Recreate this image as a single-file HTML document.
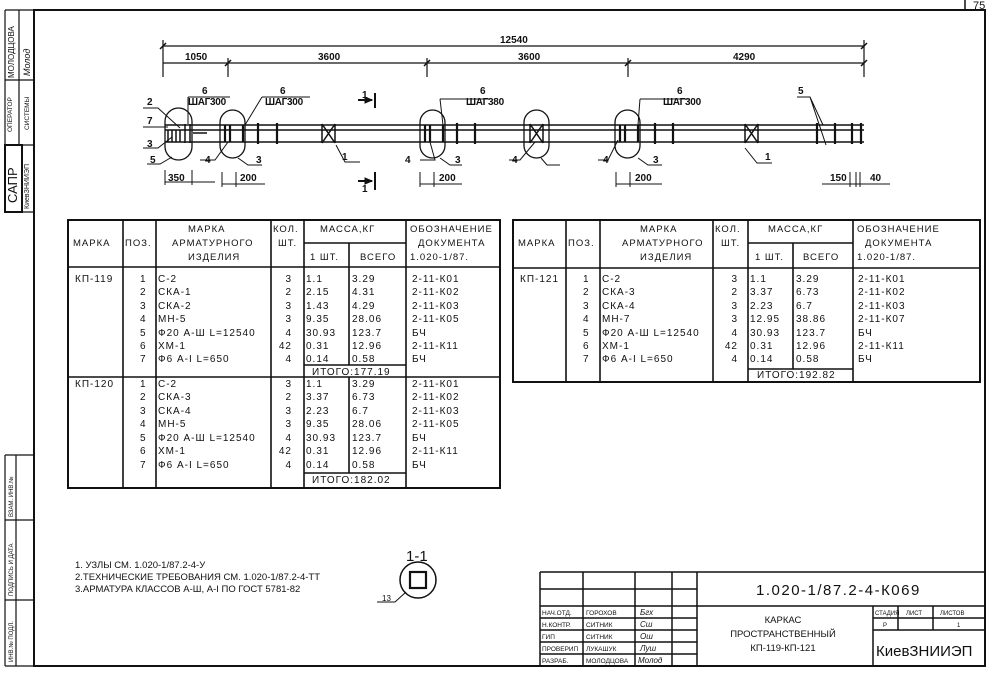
<!DOCTYPE html>
<html><head><meta charset="utf-8"><style>
html,body{margin:0;padding:0;background:#fff}
svg{display:block}
text{font-family:"Liberation Sans","DejaVu Sans",sans-serif;fill:#111}
.t{font-size:10px;letter-spacing:1px}
.h{font-size:9.5px;letter-spacing:1px}
.s{font-size:10px;font-weight:bold}
</style></head><body>
<svg width="993" height="674" viewBox="0 0 993 674" xmlns="http://www.w3.org/2000/svg">
<g stroke="#111" fill="none">
<rect x="34" y="10" width="951" height="656" stroke-width="2"/>
<path d="M965 10V0" stroke-width="1.5"/>
<path d="M5 10V212M5 455V666M5 10H34M5 80H34M5 145H34M5 212H34M19 10V80M19 80V145M5 455H34M5 520H34M5 600H34M5 666H34M16 455V666" stroke-width="1.2"/>
<rect x="5" y="145" width="17" height="67" stroke-width="2"/>
<path d="M163 46H864M163 63H864M163 40V77M228 58V77M427 58V77M628 58V77M864 40V77" stroke-width="1.2"/>
<path d="M160 49l6-6M225 66l6-6M424 66l6-6M625 66l6-6M861 49l6-6M861 66l6-6" stroke-width="1.5"/>
<path d="M165 125H864M165 142H864M165 130H864" stroke-width="1.6"/>
<path d="M168 130V142M172 130V142M176 130V142M180 130V142M185 124V143M190 124V143M193 133H207" stroke-width="1.5"/>
<path d="M225 125V142M230 125V142M243 125V142M258 123V144M277 123V144M425 125V142M430 125V142M443 125V142M457 123V144M475 123V144M620 125V142M625 125V142M638 125V142M655 123V144M673 123V144M817 123V144M835 123V144M852 123V144M861 123V144" stroke-width="2.2"/>
<path d="M322 124V143M335 124V143M322 124L335 143M335 124L322 143M530 124V143M543 124V143M530 124L543 143M543 124L530 143M745 124V143M758 124V143M745 124L758 143M758 124L745 143" stroke-width="1.5"/>
<rect x="165" y="108" width="27" height="52" rx="13.5" stroke-width="1.3"/>
<rect x="220" y="110" width="25" height="48" rx="12.5" stroke-width="1.3"/>
<rect x="420" y="110" width="25" height="48" rx="12.5" stroke-width="1.3"/>
<rect x="524" y="110" width="25" height="48" rx="12.5" stroke-width="1.3"/>
<rect x="615" y="110" width="25" height="48" rx="12.5" stroke-width="1.3"/>
<path d="M143 108H158L180 128M143 127H168M143 148H158L172 137M147 164H160L172 157M188 97H230M188 97V124M262 97H310M262 97L245 125M200 160H215L228 142M238 158L248 165H262M336 145L345 162H360M420 160H435L430 142M440 158L450 165H462M440 99H490M440 99L443 125M509 160H520L535 142M541 158L547 165H560M640 99H690M640 99L638 125M598 160H608L618 140M638 158L648 165H662M745 148L757 163H772M797 97H810L823 125M810 97L826 145" stroke-width="1"/>
<path d="M375 93V108M375 172V190M358 100H372M358 181H372" stroke-width="2"/>
<path d="M372 100l-7-3v6zM372 181l-7-3v6z" fill="#111"/>
<path d="M165 170V185M192 170V185M165 182H215M222 172V187M236 172V187M222 184H265M420 172V187M434 172V187M420 184H462M616 172V187M630 172V187M616 184H662M850 172V187M856 172V187M860 172V187M822 184H890" stroke-width="1"/>
<rect x="68" y="220" width="432" height="268" stroke-width="2"/>
<path d="M68 267H500M68 377H500M123 220V488M156 220V488M271 220V488M304 220V488M406 220V488M304 243H406M349 243V365M349 377V473M304 365H406M304 473H406" stroke-width="1.6"/>
<rect x="513" y="220" width="467" height="162" stroke-width="2"/>
<path d="M513 268H980M566 220V382M600 220V382M713 220V382M748 220V382M853 220V382M748 243H853M793 243V369M748 369H853" stroke-width="1.6"/>
<circle cx="418" cy="580" r="18" stroke-width="1.5"/>
<rect x="410" y="572" width="16" height="16" stroke-width="2.2"/>
<path d="M377 602H395L406 592" stroke-width="1"/>
<path d="M540 572H985M540 589H697M540 606H985M540 618H697M540 630H697M540 642H697M540 654H697M540 572V666M583 572V666M635 572V666M672 572V666M697 572V666M873 606V666M898 606V630M933 606V630M873 618H985M873 630H985" stroke-width="1.5"/>
</g>
<g font-size="7">
<text transform="translate(14,78) rotate(-90)" font-size="8">МОЛОДЦОВА</text>
<text transform="translate(30,76) rotate(-90)" font-size="9" font-style="italic">Молод</text>
<text transform="translate(12,132) rotate(-90)" font-size="6.5">ОПЕРАТОР</text>
<text transform="translate(29,130) rotate(-90)" font-size="6.5">СИСТЕМЫ</text>
<text transform="translate(17,203) rotate(-90)" font-size="13">САПР</text>
<text transform="translate(29,209) rotate(-90)" font-size="7">КиевЗНИИЭП</text>
<text transform="translate(13,517) rotate(-90)" font-size="6">ВЗАМ. ИНВ.№</text>
<text transform="translate(13,596) rotate(-90)" font-size="6">ПОДПИСЬ И ДАТА</text>
<text transform="translate(13,662) rotate(-90)" font-size="6">ИНВ.№ ПОДЛ.</text>
</g>
<text x="973" y="9" font-size="11">75</text>
<g class="s" font-size="10">
<text x="500" y="43">12540</text>
<text x="185" y="60">1050</text>
<text x="318" y="60">3600</text>
<text x="518" y="60">3600</text>
<text x="733" y="60">4290</text>
<text x="202" y="94">6</text><text x="188" y="105" letter-spacing="-0.3">ШАГ300</text>
<text x="280" y="94">6</text><text x="265" y="105" letter-spacing="-0.3">ШАГ300</text>
<text x="480" y="94">6</text><text x="466" y="105" letter-spacing="-0.3">ШАГ380</text>
<text x="677" y="94">6</text><text x="663" y="105" letter-spacing="-0.3">ШАГ300</text>
<text x="798" y="94">5</text>
<text x="147" y="105">2</text><text x="147" y="124">7</text><text x="147" y="147">3</text><text x="150" y="163">5</text>
<text x="205" y="163">4</text><text x="256" y="163">3</text><text x="342" y="160">1</text>
<text x="405" y="163">4</text><text x="455" y="163">3</text><text x="512" y="163">4</text>
<text x="603" y="163">4</text><text x="653" y="163">3</text><text x="765" y="160">1</text>
<text x="362" y="98">1</text><text x="362" y="192">1</text>
<text x="168" y="181">350</text><text x="240" y="181">200</text><text x="439" y="181">200</text><text x="635" y="181">200</text>
<text x="830" y="181">150</text><text x="870" y="181">40</text>
</g>
<g class="h">
<text x="73" y="246">МАРКА</text><text x="125" y="246">ПОЗ.</text>
<text x="188" y="232">МАРКА</text><text x="172" y="246">АРМАТУРНОГО</text><text x="188" y="260">ИЗДЕЛИЯ</text>
<text x="273" y="232">КОЛ.</text><text x="278" y="246">ШТ.</text>
<text x="320" y="232">МАССА,КГ</text><text x="310" y="260">1 ШТ.</text><text x="360" y="260">ВСЕГО</text>
<text x="410" y="232">ОБОЗНАЧЕНИЕ</text><text x="418" y="246">ДОКУМЕНТА</text><text x="410" y="260">1.020-1/87.</text>
</g>
<g class="t">
<text x="75" y="282">КП-119</text>
<text x="75" y="387">КП-120</text>
<text x="312" y="375">ИТОГО:177.19</text>
<text x="312" y="483">ИТОГО:182.02</text>
</g>
<g class="t">
<text x="140" y="282">1</text><text x="140" y="295">2</text><text x="140" y="309">3</text><text x="140" y="322">4</text><text x="140" y="336">5</text><text x="140" y="349">6</text><text x="140" y="362">7</text>
<text x="158" y="282">С-2</text><text x="158" y="295">СКА-1</text><text x="158" y="309">СКА-2</text><text x="158" y="322">МН-5</text><text x="158" y="336">Ф20 А-Ш L=12540</text><text x="158" y="349">ХМ-1</text><text x="158" y="362">Ф6 А-I L=650</text>
<g text-anchor="end"><text x="292" y="282">3</text><text x="292" y="295">2</text><text x="292" y="309">3</text><text x="292" y="322">3</text><text x="292" y="336">4</text><text x="292" y="349">42</text><text x="292" y="362">4</text></g>
<text x="306" y="282">1.1</text><text x="306" y="295">2.15</text><text x="306" y="309">1.43</text><text x="306" y="322">9.35</text><text x="306" y="336">30.93</text><text x="306" y="349">0.31</text><text x="306" y="362">0.14</text>
<text x="352" y="282">3.29</text><text x="352" y="295">4.31</text><text x="352" y="309">4.29</text><text x="352" y="322">28.06</text><text x="352" y="336">123.7</text><text x="352" y="349">12.96</text><text x="352" y="362">0.58</text>
<text x="412" y="282">2-11-К01</text><text x="412" y="295">2-11-К02</text><text x="412" y="309">2-11-К03</text><text x="412" y="322">2-11-К05</text><text x="412" y="336">БЧ</text><text x="412" y="349">2-11-К11</text><text x="412" y="362">БЧ</text>
</g>
<g class="t">
<text x="140" y="387">1</text><text x="140" y="400">2</text><text x="140" y="414">3</text><text x="140" y="427">4</text><text x="140" y="441">5</text><text x="140" y="454">6</text><text x="140" y="468">7</text>
<text x="158" y="387">С-2</text><text x="158" y="400">СКА-3</text><text x="158" y="414">СКА-4</text><text x="158" y="427">МН-5</text><text x="158" y="441">Ф20 А-Ш L=12540</text><text x="158" y="454">ХМ-1</text><text x="158" y="468">Ф6 А-I L=650</text>
<g text-anchor="end"><text x="292" y="387">3</text><text x="292" y="400">2</text><text x="292" y="414">3</text><text x="292" y="427">3</text><text x="292" y="441">4</text><text x="292" y="454">42</text><text x="292" y="468">4</text></g>
<text x="306" y="387">1.1</text><text x="306" y="400">3.37</text><text x="306" y="414">2.23</text><text x="306" y="427">9.35</text><text x="306" y="441">30.93</text><text x="306" y="454">0.31</text><text x="306" y="468">0.14</text>
<text x="352" y="387">3.29</text><text x="352" y="400">6.73</text><text x="352" y="414">6.7</text><text x="352" y="427">28.06</text><text x="352" y="441">123.7</text><text x="352" y="454">12.96</text><text x="352" y="468">0.58</text>
<text x="412" y="387">2-11-К01</text><text x="412" y="400">2-11-К02</text><text x="412" y="414">2-11-К03</text><text x="412" y="427">2-11-К05</text><text x="412" y="441">БЧ</text><text x="412" y="454">2-11-К11</text><text x="412" y="468">БЧ</text>
</g>
<g class="h">
<text x="518" y="246">МАРКА</text><text x="568" y="246">ПОЗ.</text>
<text x="640" y="232">МАРКА</text><text x="622" y="246">АРМАТУРНОГО</text><text x="640" y="260">ИЗДЕЛИЯ</text>
<text x="715" y="232">КОЛ.</text><text x="721" y="246">ШТ.</text>
<text x="768" y="232">МАССА,КГ</text><text x="755" y="260">1 ШТ.</text><text x="803" y="260">ВСЕГО</text>
<text x="857" y="232">ОБОЗНАЧЕНИЕ</text><text x="865" y="246">ДОКУМЕНТА</text><text x="857" y="260">1.020-1/87.</text>
</g>
<g class="t">
<text x="520" y="282">КП-121</text>
<text x="583" y="282">1</text><text x="583" y="295">2</text><text x="583" y="309">3</text><text x="583" y="322">4</text><text x="583" y="336">5</text><text x="583" y="349">6</text><text x="583" y="362">7</text>
<text x="602" y="282">С-2</text><text x="602" y="295">СКА-3</text><text x="602" y="309">СКА-4</text><text x="602" y="322">МН-7</text><text x="602" y="336">Ф20 А-Ш L=12540</text><text x="602" y="349">ХМ-1</text><text x="602" y="362">Ф6 А-I L=650</text>
<g text-anchor="end"><text x="738" y="282">3</text><text x="738" y="295">2</text><text x="738" y="309">3</text><text x="738" y="322">3</text><text x="738" y="336">4</text><text x="738" y="349">42</text><text x="738" y="362">4</text></g>
<text x="750" y="282">1.1</text><text x="750" y="295">3.37</text><text x="750" y="309">2.23</text><text x="750" y="322">12.95</text><text x="750" y="336">30.93</text><text x="750" y="349">0.31</text><text x="750" y="362">0.14</text>
<text x="796" y="282">3.29</text><text x="796" y="295">6.73</text><text x="796" y="309">6.7</text><text x="796" y="322">38.86</text><text x="796" y="336">123.7</text><text x="796" y="349">12.96</text><text x="796" y="362">0.58</text>
<text x="858" y="282">2-11-К01</text><text x="858" y="295">2-11-К02</text><text x="858" y="309">2-11-К03</text><text x="858" y="322">2-11-К07</text><text x="858" y="336">БЧ</text><text x="858" y="349">2-11-К11</text><text x="858" y="362">БЧ</text>
<text x="757" y="378">ИТОГО:192.82</text>
</g>
<g font-size="9.5">
<text x="75" y="568">1. УЗЛЫ СМ. 1.020-1/87.2-4-У</text>
<text x="75" y="580">2.ТЕХНИЧЕСКИЕ ТРЕБОВАНИЯ СМ. 1.020-1/87.2-4-ТТ</text>
<text x="75" y="592">3.АРМАТУРА КЛАССОВ А-Ш, А-I ПО ГОСТ 5781-82</text>
</g>
<text x="406" y="561" font-size="15">1-1</text>
<text x="382" y="601" font-size="8">13</text>
<text x="756" y="595" font-size="15" letter-spacing="1.5">1.020-1/87.2-4-К069</text>
<g font-size="6.5">
<text x="542" y="615">НАЧ.ОТД.</text><text x="542" y="627">Н.КОНТР.</text><text x="542" y="639">ГИП</text><text x="542" y="651">ПРОВЕРИП</text><text x="542" y="663">РАЗРАБ.</text>
<text x="586" y="615">ГОРОХОВ</text><text x="586" y="627">СИТНИК</text><text x="586" y="639">СИТНИК</text><text x="586" y="651">ЛУКАШУК</text><text x="586" y="663">МОЛОДЦОВА</text>
</g>
<g font-size="6">
<text x="875" y="615">СТАДИЯ</text><text x="906" y="615">ЛИСТ</text><text x="940" y="615">ЛИСТОВ</text>
<text x="883" y="627">Р</text><text x="957" y="627">1</text>
</g>
<g font-size="9.5" text-anchor="middle">
<text x="783" y="623">КАРКАС</text><text x="783" y="637">ПРОСТРАНСТВЕННЫЙ</text><text x="783" y="651">КП-119-КП-121</text>
</g>
<text x="876" y="656" font-size="15">КиевЗНИИЭП</text>
<g font-size="8" font-style="italic" fill="#333"><text x="640" y="615">Бгх</text><text x="640" y="627">Сш</text><text x="640" y="639">Ош</text><text x="640" y="651">Луш</text><text x="638" y="663">Молод</text></g>
</svg>
</body></html>
